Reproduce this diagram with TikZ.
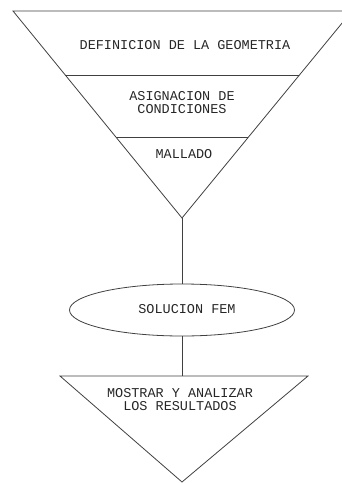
\documentclass[tikz,border=0pt]{standalone}
\usepackage{fontspec}
\setmonofont{Liberation Mono}
\usetikzlibrary{shapes.geometric}
\tikzset{
  edge/.style={draw=black!75, line width=0.8pt},
  lbl/.style={font=\ttfamily\fontsize{13.5}{13}\selectfont, text=black!85, align=center, inner sep=0pt},
}
\begin{document}
\begin{tikzpicture}[x=1pt,y=-1pt]
\useasboundingbox (0,0) rectangle (342,483);
\clip (0,0) rectangle (342,483);
% top funnel
\coordinate (tl) at (13,11);
\coordinate (tr) at (352,11);
\coordinate (apex) at (182,218);
\draw[edge] (tl) -- (tr) -- (apex) -- cycle;
\draw[edge] (65,75) -- (299,75);
\draw[edge] (116,137) -- (248,137);
\node[lbl] (geo) at (185,45) {DEFINICION DE LA GEOMETRIA};
\node[lbl] (cond) at (182,103) {ASIGNACION DE\\CONDICIONES};
\node[lbl] (mall) at (184,154) {MALLADO};
% ellipse
\node[edge, ellipse, minimum width=225pt, minimum height=52pt, inner sep=0pt] (fem) at (182,310) {};
\node[lbl] (femt) at (187,309) {SOLUCION FEM};
% bottom triangle
\coordinate (bl) at (60,376);
\coordinate (br) at (308,376);
\coordinate (bapex) at (182,482);
\coordinate (btop) at (182,376);
\draw[edge] (bl) -- (br) -- (bapex) -- cycle;
\node[lbl] (res) at (180,400) {MOSTRAR Y ANALIZAR\\LOS RESULTADOS};
% connectors
\draw[edge] (apex) -- (fem.north);
\draw[edge] (fem.south) -- (btop);
\end{tikzpicture}
\end{document}
